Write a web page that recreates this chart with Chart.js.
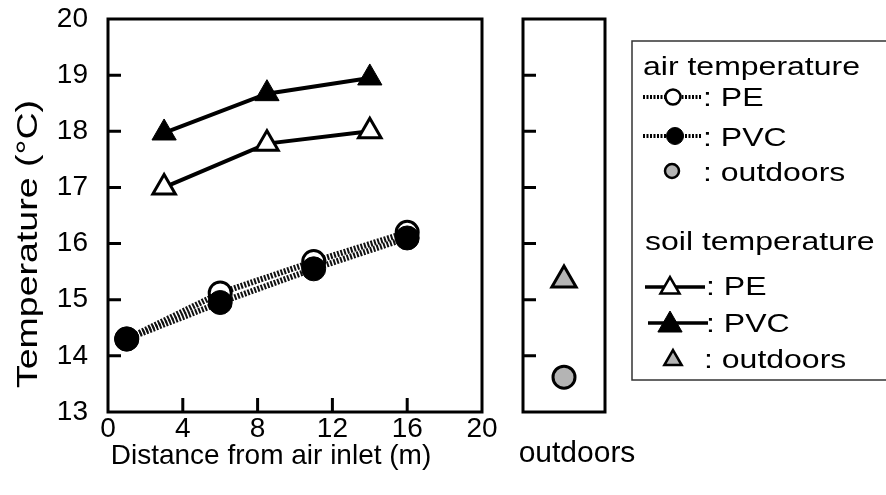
<!DOCTYPE html>
<html>
<head>
<meta charset="utf-8">
<script src="https://cdn.jsdelivr.net/npm/chart.js@4/dist/chart.umd.min.js"></script>
<style>
  body { margin: 0; background: #fff; }
  #wrap { position: relative; width: 886px; height: 495px; }
  canvas { position: absolute; left: 0; top: 0; }
</style>
</head>
<body>
<div id="wrap">
  <canvas id="main" width="886" height="495"></canvas>
  <canvas id="out" width="886" height="495"></canvas>
</div>
<script>
// values
const airDist = [1, 6, 11, 16];
const airPE = [14.3, 15.12, 15.68, 16.2];
const airPVC = [14.3, 14.95, 15.55, 16.1];
const soilDist = [3, 8.5, 14];
const soilPE = [17.0, 17.78, 18.0];
const soilPVC = [17.97, 18.67, 18.95];
const outLabels = ['outdoors'];
const airOut = [13.62];
const soilOut = [15.35];
const xTicks = [0, 4, 8, 12, 16, 20];
const yTicks = [13, 14, 15, 16, 17, 18, 19, 20];

const FONT = "'Liberation Sans', Arial, sans-serif";
const GRAY = '#b4b4b4';
Chart.defaults.font.family = FONT;
Chart.defaults.color = '#000';

function pts(xs, ys) {
    return xs.map((x, i) => ({ x: x, y: ys[i] }));
}

// text a bit wider than the font, like the scanned lettering
function wideText(ctx, txt, x, y, sx) {
    ctx.save();
    ctx.translate(x, y);
    ctx.scale(sx, 1);
    ctx.fillText(txt, 0, 0);
    ctx.restore();
}

// frame, inward ticks and axis titles
const frameMain = {
    id: 'frameMain',
    afterDraw(chart) {
        const ctx = chart.ctx;
        const a = chart.chartArea;
        const x = chart.scales.x, y = chart.scales.y;
        ctx.save();
        ctx.strokeStyle = '#000';
        ctx.lineWidth = 3;
        ctx.strokeRect(a.left, a.top, a.right - a.left, a.bottom - a.top);
        ctx.beginPath();
        yTicks.slice(1, -1).forEach(v => {
            const py = y.getPixelForValue(v);
            ctx.moveTo(a.left, py);
            ctx.lineTo(a.left + 13, py);
        });
        xTicks.slice(1, -1).forEach(v => {
            const px = x.getPixelForValue(v);
            ctx.moveTo(px, a.bottom);
            ctx.lineTo(px, a.bottom - 14);
        });
        ctx.stroke();

        ctx.fillStyle = '#000';
        ctx.font = '28px ' + FONT;
        ctx.textAlign = 'center';
        ctx.textBaseline = 'alphabetic';
        ctx.fillText('Distance from air inlet (m)', 271, 464);
        ctx.font = '30px ' + FONT;
        ctx.translate(37, 244);
        ctx.rotate(-Math.PI / 2);
        wideText(ctx, 'Temperature (°C)', 0, 0, 1.25);
        ctx.restore();
    }
};

const frameOut = {
    id: 'frameOut',
    afterDraw(chart) {
        const ctx = chart.ctx;
        const a = chart.chartArea;
        const y = chart.scales.y;
        ctx.save();
        ctx.strokeStyle = '#000';
        ctx.lineWidth = 3;
        ctx.strokeRect(a.left, a.top, a.right - a.left, a.bottom - a.top);
        ctx.beginPath();
        yTicks.slice(1, -1).forEach(v => {
            const py = y.getPixelForValue(v);
            ctx.moveTo(a.left, py);
            ctx.lineTo(a.left + 13, py);
        });
        ctx.stroke();
        ctx.restore();
        drawLegend(ctx);
    }
};

function marker(ctx, style, r, fill, bw, x, y) {
    ctx.fillStyle = fill;
    ctx.strokeStyle = '#000';
    ctx.lineWidth = bw;
    Chart.helpers.drawPoint(ctx, { pointStyle: style, radius: r, borderWidth: bw, rotation: 0 }, x, y);
}

function drawLegend(ctx) {
    ctx.save();
    ctx.strokeStyle = '#333';
    ctx.lineWidth = 1.5;
    ctx.strokeRect(632, 41, 300, 339);

    // sample lines
    ctx.strokeStyle = '#000';
    ctx.setLineDash([2, 1.5]);
    ctx.lineWidth = 4;
    ctx.beginPath();
    ctx.moveTo(643, 97); ctx.lineTo(702, 97);
    ctx.moveTo(643, 136); ctx.lineTo(702, 136);
    ctx.stroke();
    ctx.setLineDash([]);
    ctx.lineWidth = 3.5;
    ctx.beginPath();
    ctx.moveTo(645, 287); ctx.lineTo(705, 287);
    ctx.moveTo(648, 323); ctx.lineTo(708, 323);
    ctx.stroke();

    marker(ctx, 'circle', 7.5, '#fff', 2.5, 673, 97);
    marker(ctx, 'circle', 8.5, '#000', 1, 675, 136);
    marker(ctx, 'circle', 7, GRAY, 2.5, 672, 171);
    marker(ctx, 'triangle', 11, '#fff', 2.5, 670, 288);
    marker(ctx, 'triangle', 14, '#000', 1, 670, 325);
    marker(ctx, 'triangle', 10, GRAY, 2.5, 673, 360);

    ctx.fillStyle = '#000';
    ctx.font = '25px ' + FONT;
    ctx.textAlign = 'left';
    ctx.textBaseline = 'alphabetic';
    const sx = 1.28;
    wideText(ctx, 'air temperature', 643, 75, sx);
    wideText(ctx, ': PE', 703, 106, sx);
    wideText(ctx, ': PVC', 703, 146, sx);
    wideText(ctx, ': outdoors', 703, 181, sx);
    wideText(ctx, 'soil temperature', 645, 250, sx);
    wideText(ctx, ': PE', 706, 295, sx);
    wideText(ctx, ': PVC', 706, 332, sx);
    wideText(ctx, ': outdoors', 704, 368, sx);
    ctx.restore();
}

new Chart(document.getElementById('main'), {
    type: 'line',
    data: {
        datasets: [
            {
                label: 'soil PVC',
                data: pts(soilDist, soilPVC),
                borderColor: '#000', borderWidth: 4,
                pointStyle: 'triangle', pointRadius: 14,
                pointBackgroundColor: '#000', pointBorderColor: '#000', pointBorderWidth: 1,
                order: 1
            },
            {
                label: 'soil PE',
                data: pts(soilDist, soilPE),
                borderColor: '#000', borderWidth: 4,
                pointStyle: 'triangle', pointRadius: 13,
                pointBackgroundColor: '#fff', pointBorderColor: '#000', pointBorderWidth: 3,
                order: 2
            },
            {
                label: 'air PVC',
                data: pts(airDist, airPVC),
                borderColor: '#111', borderWidth: 6, borderDash: [2, 1.5],
                pointStyle: 'circle', pointRadius: 12,
                pointBackgroundColor: '#000', pointBorderColor: '#000', pointBorderWidth: 1,
                order: 3
            },
            {
                label: 'air PE',
                data: pts(airDist, airPE),
                borderColor: '#111', borderWidth: 6, borderDash: [2, 1.5],
                pointStyle: 'circle', pointRadius: 11,
                pointBackgroundColor: '#fff', pointBorderColor: '#000', pointBorderWidth: 3,
                order: 4
            }
        ]
    },
    options: {
        responsive: false,
        animation: false,
        layout: { padding: { left: 0, right: 404, top: 19, bottom: 0 } },
        plugins: { legend: { display: false }, tooltip: { enabled: false } },
        scales: {
            x: {
                type: 'linear', min: 0, max: 20,
                afterBuildTicks: s => { s.ticks = xTicks.map(v => ({ value: v })); },
                afterFit: s => { s.height = 83; },
                grid: { display: false, drawTicks: false },
                border: { display: false },
                ticks: { font: { size: 28 }, padding: 0, maxRotation: 0 }
            },
            y: {
                type: 'linear', min: 13, max: 20,
                afterBuildTicks: s => { s.ticks = yTicks.map(v => ({ value: v })); },
                afterFit: s => { s.width = 108; s.paddingTop = 0; s.paddingBottom = 0; },
                grid: { display: false, drawTicks: false },
                border: { display: false },
                ticks: { font: { size: 28 }, padding: 20 }
            }
        }
    },
    plugins: [frameMain]
});

new Chart(document.getElementById('out'), {
    type: 'line',
    data: {
        labels: outLabels,
        datasets: [
            {
                label: 'soil outdoors',
                data: soilOut,
                showLine: false,
                pointStyle: 'triangle', pointRadius: 14,
                pointBackgroundColor: GRAY, pointBorderColor: '#000', pointBorderWidth: 3
            },
            {
                label: 'air outdoors',
                data: airOut,
                showLine: false,
                pointStyle: 'circle', pointRadius: 11,
                pointBackgroundColor: GRAY, pointBorderColor: '#000', pointBorderWidth: 3
            }
        ]
    },
    options: {
        responsive: false,
        animation: false,
        layout: { padding: { left: 523, right: 281, top: 19, bottom: 0 } },
        plugins: { legend: { display: false }, tooltip: { enabled: false } },
        scales: {
            x: {
                type: 'category', offset: true,
                afterFit: s => { s.height = 83; },
                grid: { display: false, drawTicks: false },
                border: { display: false },
                ticks: { font: { size: 30 }, padding: 24, labelOffset: 13 }
            },
            y: {
                type: 'linear', min: 13, max: 20, display: false
            }
        }
    },
    plugins: [frameOut]
});
</script>
</body>
</html>
